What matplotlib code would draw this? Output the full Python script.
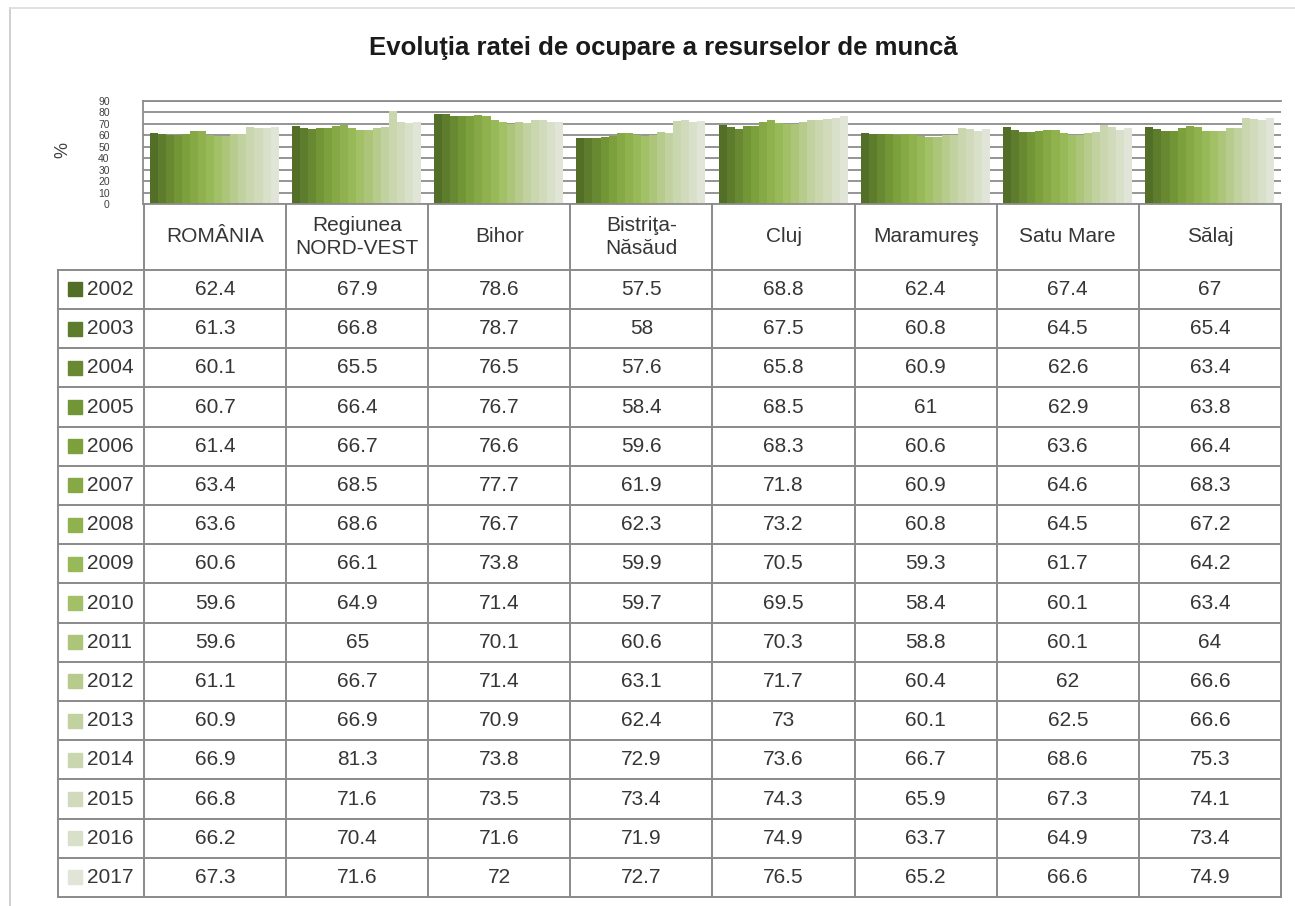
import numpy as np
import matplotlib.pyplot as plt
from matplotlib.colors import LinearSegmentedColormap

plt.rcParams['font.family'] = ['Liberation Sans', 'DejaVu Sans']

regions = ['ROMÂNIA', 'Regiunea\nNORD-VEST', 'Bihor', 'Bistriţa-\nNăsăud', 'Cluj',
           'Maramureş', 'Satu Mare', 'Sălaj']
years = [2002, 2003, 2004, 2005, 2006, 2007, 2008, 2009,
         2010, 2011, 2012, 2013, 2014, 2015, 2016, 2017]

# rate per year (rows) and region (columns)
romania = [62.4, 61.3, 60.1, 60.7, 61.4, 63.4, 63.6, 60.6, 59.6, 59.6, 61.1, 60.9, 66.9, 66.8, 66.2, 67.3]
nord_vest = [67.9, 66.8, 65.5, 66.4, 66.7, 68.5, 68.6, 66.1, 64.9, 65, 66.7, 66.9, 81.3, 71.6, 70.4, 71.6]
bihor = [78.6, 78.7, 76.5, 76.7, 76.6, 77.7, 76.7, 73.8, 71.4, 70.1, 71.4, 70.9, 73.8, 73.5, 71.6, 72]
bistrita = [57.5, 58, 57.6, 58.4, 59.6, 61.9, 62.3, 59.9, 59.7, 60.6, 63.1, 62.4, 72.9, 73.4, 71.9, 72.7]
cluj = [68.8, 67.5, 65.8, 68.5, 68.3, 71.8, 73.2, 70.5, 69.5, 70.3, 71.7, 73, 73.6, 74.3, 74.9, 76.5]
maramures = [62.4, 60.8, 60.9, 61, 60.6, 60.9, 60.8, 59.3, 58.4, 58.8, 60.4, 60.1, 66.7, 65.9, 63.7, 65.2]
satu_mare = [67.4, 64.5, 62.6, 62.9, 63.6, 64.6, 64.5, 61.7, 60.1, 60.1, 62, 62.5, 68.6, 67.3, 64.9, 66.6]
salaj = [67, 65.4, 63.4, 63.8, 66.4, 68.3, 67.2, 64.2, 63.4, 64, 66.6, 66.6, 75.3, 74.1, 73.4, 74.9]

data = np.array([romania, nord_vest, bihor, bistrita, cluj, maramures, satu_mare, salaj]).T

n_years = len(years)
n_reg = len(regions)
cmap = LinearSegmentedColormap.from_list('olive', ['#536f27', '#7a9f3a', '#9dbd5c', '#c4d2a4', '#e0e5d8'])
colors = [cmap(k / (n_years - 1)) for k in range(n_years)]

W, H = 1295, 906
fig = plt.figure(figsize=(W / 100, H / 100), dpi=100)

# frame of the screenshot
fig.add_artist(plt.Line2D([10 / W, 10 / W], [0, 1 - 8 / H], color='#c8c8c8', lw=1.2))
fig.add_artist(plt.Line2D([10 / W, 1], [1 - 8 / H, 1 - 8 / H], color='#dcdcdc', lw=1.2))

fig.text(663 / W, 1 - 48 / H, 'Evoluţia ratei de ocupare a resurselor de muncă',
         ha='center', va='center', fontsize=18.5, fontweight='bold', color='#1a1a1a',
         family=['Liberation Sans Narrow', 'Liberation Sans', 'DejaVu Sans'])

# bar chart strip
ax = fig.add_axes([143 / W, 1 - 204 / H, 1138 / W, 103 / H])
group_w = 0.908
bar_w = group_w / n_years
for k in range(n_years):
    x = np.arange(n_reg) + (1 - group_w) / 2 + (k + 0.5) * bar_w
    ax.bar(x, data[k], width=bar_w, color=colors[k], linewidth=0, zorder=2)
ax.set_xlim(0, n_reg)
ax.set_ylim(0, 90)
ax.set_yticks(np.arange(0, 91, 10))
ax.yaxis.grid(True, color='#8c8c8c', lw=1.3, zorder=0)
ax.set_axisbelow(True)
ax.set_xticks([])
ax.tick_params(axis='y', length=0, pad=24, labelsize=7.5, labelcolor='#404040')
for s in ['left', 'top', 'bottom']:
    ax.spines[s].set_color('#8c8c8c')
    ax.spines[s].set_linewidth(1.3)
ax.spines['right'].set_visible(False)
fig.text(63 / W, 1 - 150 / H, '%', rotation=90, ha='center', va='center',
         fontsize=13, color='#404040')

# data table
lab_w = 0.605
head_h = 1.68
tx = fig.add_axes([58 / W, 1 - 897 / H, 1223 / W, 693 / H])
tx.set_xlim(-lab_w, n_reg)
tx.set_ylim(head_h + n_years, 0)
tx.axis('off')
lc = '#8a8a8a'
for j in range(n_reg + 1):
    tx.plot([j, j], [0, head_h + n_years], color=lc, lw=1.4, clip_on=False)
tx.plot([-lab_w, -lab_w], [head_h, head_h + n_years], color=lc, lw=1.4, clip_on=False)
for i in range(n_years + 1):
    tx.plot([-lab_w, n_reg], [head_h + i, head_h + i], color=lc, lw=1.4, clip_on=False)

txt_c = '#363636'
fs = 15
for j, r in enumerate(regions):
    tx.text(j + 0.5, head_h / 2, r, ha='center', va='center', fontsize=fs,
            color=txt_c, linespacing=1.3)
for i, y in enumerate(years):
    yc = head_h + i + 0.5
    tx.plot(-0.485, yc, marker='s', markersize=9.5, color=colors[i], clip_on=False)
    tx.text(-0.40, yc, str(y), ha='left', va='center', fontsize=fs, color=txt_c)
    for j in range(n_reg):
        tx.text(j + 0.5, yc, '{:g}'.format(data[i, j]), ha='center', va='center',
                fontsize=fs, color=txt_c)

plt.savefig('out.png', dpi=100)
